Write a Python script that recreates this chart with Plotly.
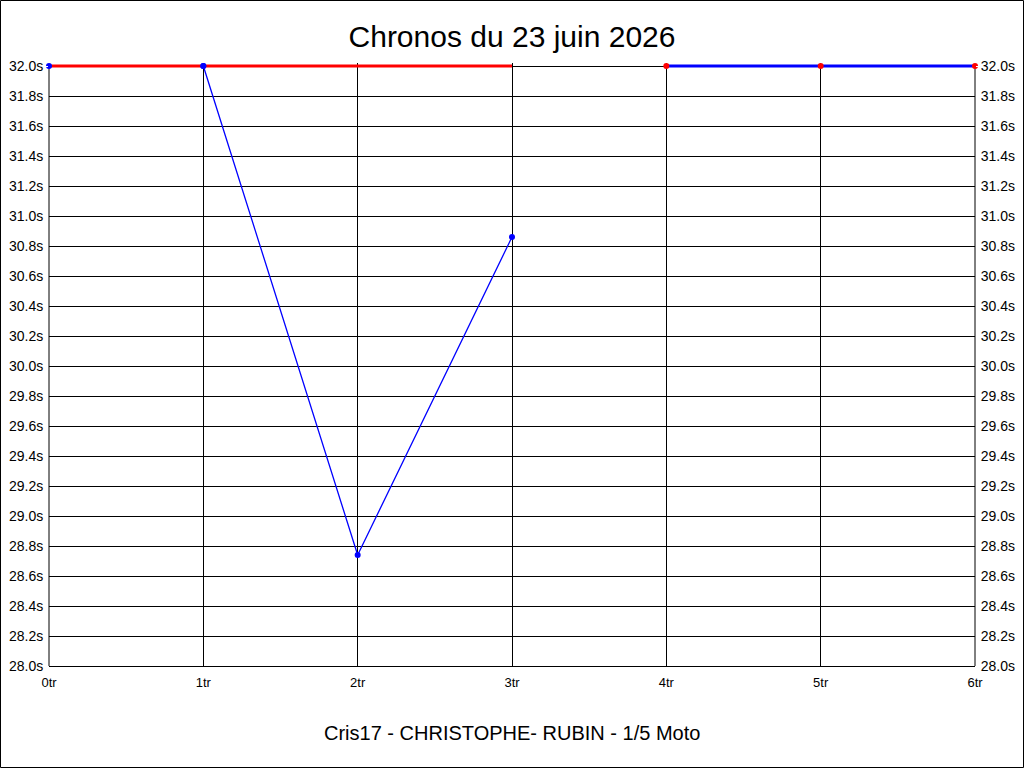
import plotly.graph_objects as go

# Chart data
title_text = "Chronos du 23 juin 2026"
subtitle_text = "Cris17 - CHRISTOPHE- RUBIN - 1/5 Moto"

ref_tours = [0, 1, 2, 3]
ref_times = [32.0, 32.0, 32.0, 32.0]

start_tours = [0, 1]
start_times = [32.0, 32.0]

lap_tours = [1, 2, 3]
lap_times = [32.0, 28.74, 30.86]

end_tours = [4, 5, 6]
end_times = [32.0, 32.0, 32.0]

y_min, y_max = 28.0, 32.0
x_min, x_max = 0, 6

fig = go.Figure()

# thick red reference line
fig.add_trace(go.Scatter(x=ref_tours, y=ref_times, mode="lines",
                         line=dict(color="#ff0000", width=3), cliponaxis=False))
# thin blue lap line
fig.add_trace(go.Scatter(x=lap_tours, y=lap_times, mode="lines+markers",
                         line=dict(color="#0000ff", width=1.3),
                         marker=dict(color="#0000ff", size=6), cliponaxis=False))
# blue points at start
fig.add_trace(go.Scatter(x=start_tours, y=start_times, mode="markers",
                         marker=dict(color="#0000ff", size=6), cliponaxis=False))
# thick blue line with red points
fig.add_trace(go.Scatter(x=end_tours, y=end_times, mode="lines+markers",
                         line=dict(color="#0000ff", width=3),
                         marker=dict(color="#ff0000", size=6), cliponaxis=False))
# invisible trace for right axis
fig.add_trace(go.Scatter(x=[x_min], y=[y_min], yaxis="y2", mode="markers",
                         marker=dict(opacity=0), hoverinfo="skip"))

# small headroom above 32.0 so the top lines are not clipped
pad = 0.02
ml, mr, mt, mb = 49, 49, 63, 102
W, H = 1024, 768
pw, ph = W - ml - mr, H - mt - mb

axis_common = dict(
    range=[y_min, y_max + pad], dtick=0.2, tick0=28.0, tickformat=".1f", ticksuffix="s",
    zeroline=False, showline=False, automargin=False,
    ticks="outside", ticklen=2, tickcolor="#ffffff",
    tickfont=dict(family="Liberation Sans, Arial", size=14, color="#000000"),
)

fig.update_layout(
    width=W, height=H,
    margin=dict(l=ml, r=mr, t=mt, b=mb),
    paper_bgcolor="#ffffff", plot_bgcolor="#ffffff",
    showlegend=False,
    title=dict(text=title_text, x=0.5, xanchor="center", y=1 - 36 / H, yanchor="middle",
               font=dict(family="Liberation Sans, Arial", size=30, color="#000000")),
    xaxis=dict(range=[x_min, x_max], dtick=1, ticksuffix="tr", automargin=False,
               showgrid=True, gridcolor="#000000", gridwidth=1, zeroline=False,
               showline=True, linecolor="#000000", linewidth=1,
               ticks="outside", ticklen=4, tickcolor="#ffffff",
               tickfont=dict(family="Liberation Sans, Arial", size=13, color="#000000")),
    yaxis=dict(side="left", showgrid=True, gridcolor="#000000", gridwidth=1, **axis_common),
    yaxis2=dict(side="right", overlaying="y", showgrid=False, **axis_common),
    annotations=[dict(text=subtitle_text, xref="paper", yref="paper", x=0.5,
                      y=-(733 - (mt + ph)) / ph, xanchor="center", yanchor="middle",
                      showarrow=False,
                      font=dict(family="Liberation Sans, Arial", size=20, color="#000000"))],
    shapes=[
        # outer frame of the picture
        dict(type="rect", xref="paper", yref="paper",
             x0=-(ml - 0.5) / pw, x1=1 + (mr - 0.5) / pw,
             y0=-(mb - 0.5) / ph, y1=1 + (mt - 0.5) / ph,
             line=dict(color="#000000", width=1), layer="below"),
        # left and right axis lines from 28.0 to 32.0
        dict(type="line", xref="paper", yref="y", x0=0, x1=0, y0=y_min, y1=y_max,
             line=dict(color="#000000", width=1), layer="below"),
        dict(type="line", xref="paper", yref="y", x0=1, x1=1, y0=y_min, y1=y_max,
             line=dict(color="#000000", width=1), layer="below"),
    ],
)

fig.write_html("out.html", config={"displayModeBar": False},
               post_script="document.body.style.margin='0';")
